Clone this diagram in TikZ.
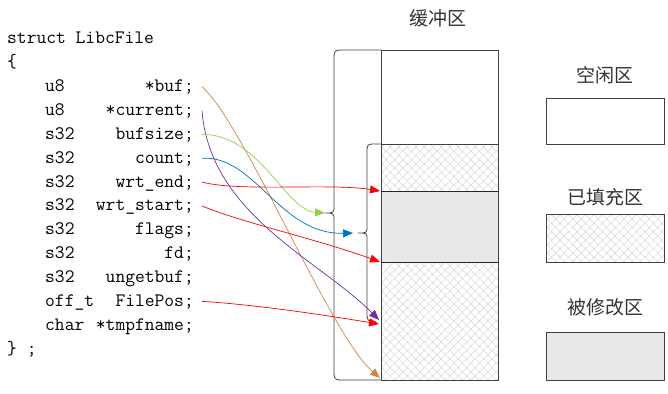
\documentclass[tikz,border=0pt]{standalone}
\usepackage{fontspec}
\newfontfamily\cjk{Noto Sans CJK SC}
\usetikzlibrary{arrows.meta,patterns.meta}
\definecolor{ptrorange}{RGB}{214,130,70}
\definecolor{ptrgreen}{RGB}{146,208,80}
\definecolor{ptrblue}{RGB}{0,112,192}
\definecolor{ptrpurple}{RGB}{112,48,160}
\definecolor{ptrred}{RGB}{255,0,0}

\begin{document}
\begin{tikzpicture}[x=1pt,y=-1pt]
  \tikzset{
    code/.style={font=\fontsize{19}{22}\selectfont\ttfamily,inner sep=0pt},
    field/.style={code,anchor=base east,inner xsep=8pt},
    zhtext/.style={font=\fontsize{19}{21}\selectfont\cjk,text=black!80},
    bufline/.style={draw=black!75,line width=0.9pt},
    brace/.style={draw=black!75,line width=0.8pt},
    hatch/.style={postaction={pattern={Lines[angle=45,distance=6pt,line width=0.5pt]},pattern color=black!16},
                  postaction={pattern={Lines[angle=-45,distance=6pt,line width=0.5pt]},pattern color=black!16}},
    modified/.style={fill=black!9},
    ptr/.style={line width=0.7pt,-{Triangle[length=10pt,width=8pt]}}
  }
  \useasboundingbox (0,0) rectangle (668,393);

  % Structure declaration.
  \node[code,anchor=base west] (head) at (7,44) {struct LibcFile};
  \node[code,anchor=base west] (open) at (7,67.85) {\{};
  \foreach \ty/\nm/\id [count=\i from 2] in {u8/*buf;/fBuf, u8/*current;/fCur,
      s32/bufsize;/fSize, s32/count;/fCount, s32/wrt\_end;/fEnd, s32/wrt\_start;/fStart,
      s32/flags;/fFlags, s32/fd;/fFd, s32/ungetbuf;/fUnget, off\_t/FilePos;/fPos,
      char/*tmpfname;/fTmp} {
    \node[code,anchor=base west] (\id T) at (45,{44+23.85*\i}) {\ty};
    \node[field] (\id) at (202,{44+23.85*\i}) {\nm};
  }
  \node[code,anchor=base west] (close) at (7,354) {\} ;};

  % Buffer with its regions.
  \node[zhtext] (bufTitle) at (438,18) {缓冲区};
  \path[hatch] (381,144) rectangle (498,191);
  \path[modified] (381,191) rectangle (498,262);
  \path[hatch] (381,262) rectangle (498,380);
  \draw[bufline] (381,50) rectangle (498,380);
  \draw[bufline] (381,144) -- (498,144);
  \draw[bufline,draw=black!85] (381,191) -- (498,191);
  \draw[bufline,draw=black!85] (381,262) -- (498,262);

  % Braces.
  \draw[brace] (381,50) -- (344,50) .. controls (334,50) .. (334,60) -- (334,205)
    .. controls (334,213) .. (325,213) .. controls (334,213) .. (334,221) -- (334,370)
    .. controls (334,380) .. (344,380) -- (381,380);
  \draw[brace] (381,144) -- (376,144) .. controls (367,144) .. (367,153) -- (367,226)
    .. controls (367,233) .. (358,233) .. controls (367,233) .. (367,240) -- (367,312)
    .. controls (367,321) .. (376,322);

  % Legend.
  \node[zhtext] (lgFree) at (605,75) {空闲区};
  \draw[bufline] (546,98) rectangle (664,144);
  \node[zhtext] (lgFill) at (605,197) {已填充区};
  \path[hatch] (546,214) rectangle (664,262);
  \draw[bufline] (546,214) rectangle (664,262);
  \node[zhtext] (lgMod) at (605,307) {被修改区};
  \path[modified] (546,332) rectangle (664,380);
  \draw[bufline] (546,332) rectangle (664,380);

  % Pointer targets.
  \coordinate (tBig) at (325,213);
  \coordinate (tSmall) at (353,233);
  \coordinate (tModTop) at (380,191);
  \coordinate (tModBot) at (380,262);
  \coordinate (tCur) at (379,320);
  \coordinate (tPos) at (379,324);
  \coordinate (tBot) at (380,378);

  % Pointers from the fields.
  \draw[ptr,ptrorange] ([yshift=5pt]fBuf.base east) .. controls (245,125) and (330,335) .. (tBot);
  \draw[ptr,ptrpurple] ([yshift=5pt]fCur.base east) .. controls (210,215) and (320,260) .. (tCur);
  \draw[ptr,ptrgreen] ([yshift=5pt]fSize.base east) .. controls (260,134) and (285,210) .. (tBig);
  \draw[ptr,ptrblue] ([yshift=5pt]fCount.base east) .. controls (255,155) and (280,235) .. (tSmall);
  \draw[ptr,ptrred] ([yshift=5pt]fEnd.base east) .. controls (240,192) and (330,183) .. (tModTop);
  \draw[ptr,ptrred] ([yshift=5pt]fStart.base east) .. controls (240,222) and (320,240) .. (tModBot);
  \draw[ptr,ptrred] ([yshift=5pt]fPos.base east) .. controls (260,305) and (330,316) .. (tPos);
\end{tikzpicture}
\end{document}
